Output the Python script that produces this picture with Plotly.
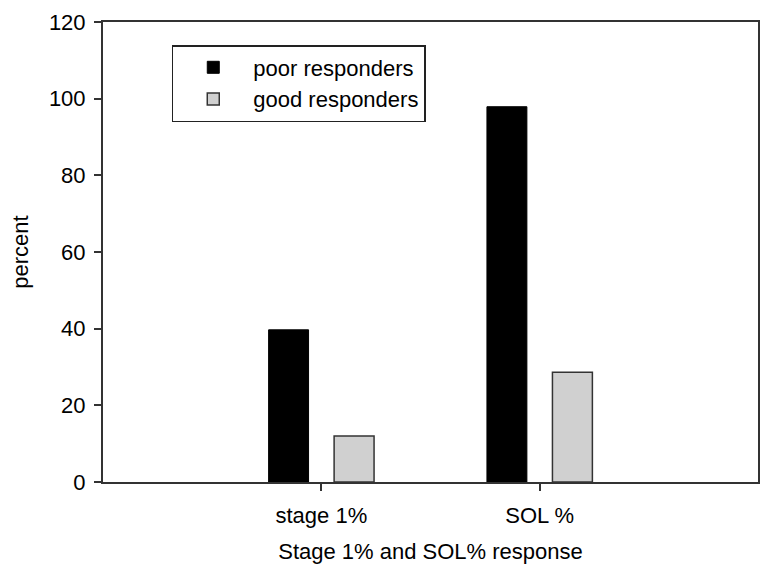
import plotly.graph_objects as go

categories = ["stage 1%", "SOL %"]
poor_responders = [39.7, 97.9]
good_responders = [12.0, 28.6]
y_ticks = [0, 20, 40, 60, 80, 100, 120]

FONT = "Liberation Sans, Arial, sans-serif"
FS = 22

fig = go.Figure()
fig.add_trace(go.Bar(
    x=categories, y=poor_responders, name="poor responders",
    marker=dict(color="#000000", line=dict(color="#000000", width=1)),
))
fig.add_trace(go.Bar(
    x=categories, y=good_responders, name="good responders",
    marker=dict(color="#d0d0d0", line=dict(color="#333333", width=1.5)),
))

fig.update_layout(
    width=766, height=570,
    margin=dict(l=95, r=16, t=12, b=96),
    paper_bgcolor="white", plot_bgcolor="white",
    font=dict(family=FONT, size=FS, color="black"),
    barmode="group", bargap=0.4, bargroupgap=0.39,
    showlegend=True,
    legend=dict(
        x=0.105, y=0.95, xanchor="left", yanchor="top",
        bordercolor="#222222", borderwidth=1.5, bgcolor="white",
        font=dict(family=FONT, size=FS, color="black"),
        itemwidth=70, traceorder="normal",
    ),
)
fig.update_xaxes(
    type="category", range=[-1, 2], automargin=True,
    showline=True, linecolor="#333333", linewidth=2, mirror=True,
    ticks="outside", ticklen=7, tickcolor="#333333", tickwidth=1.5,
    ticklabelstandoff=6,
    showgrid=False, zeroline=False,
    title=dict(text="Stage 1% and SOL% response", standoff=16,
               font=dict(family=FONT, size=FS, color="black")),
    tickfont=dict(family=FONT, size=FS, color="black"),
)
fig.update_yaxes(
    range=[0, 120], tickvals=y_ticks, automargin=False,
    ticklabeloverflow="allow",
    showline=True, linecolor="#333333", linewidth=2, mirror=True,
    ticks="outside", ticklen=7, tickcolor="#333333", tickwidth=1.5,
    ticklabelstandoff=4,
    showgrid=False, zeroline=False,
    title=dict(text="percent", standoff=14,
               font=dict(family=FONT, size=FS, color="black")),
    tickfont=dict(family=FONT, size=FS, color="black"),
)

fig.write_html("out.html")
